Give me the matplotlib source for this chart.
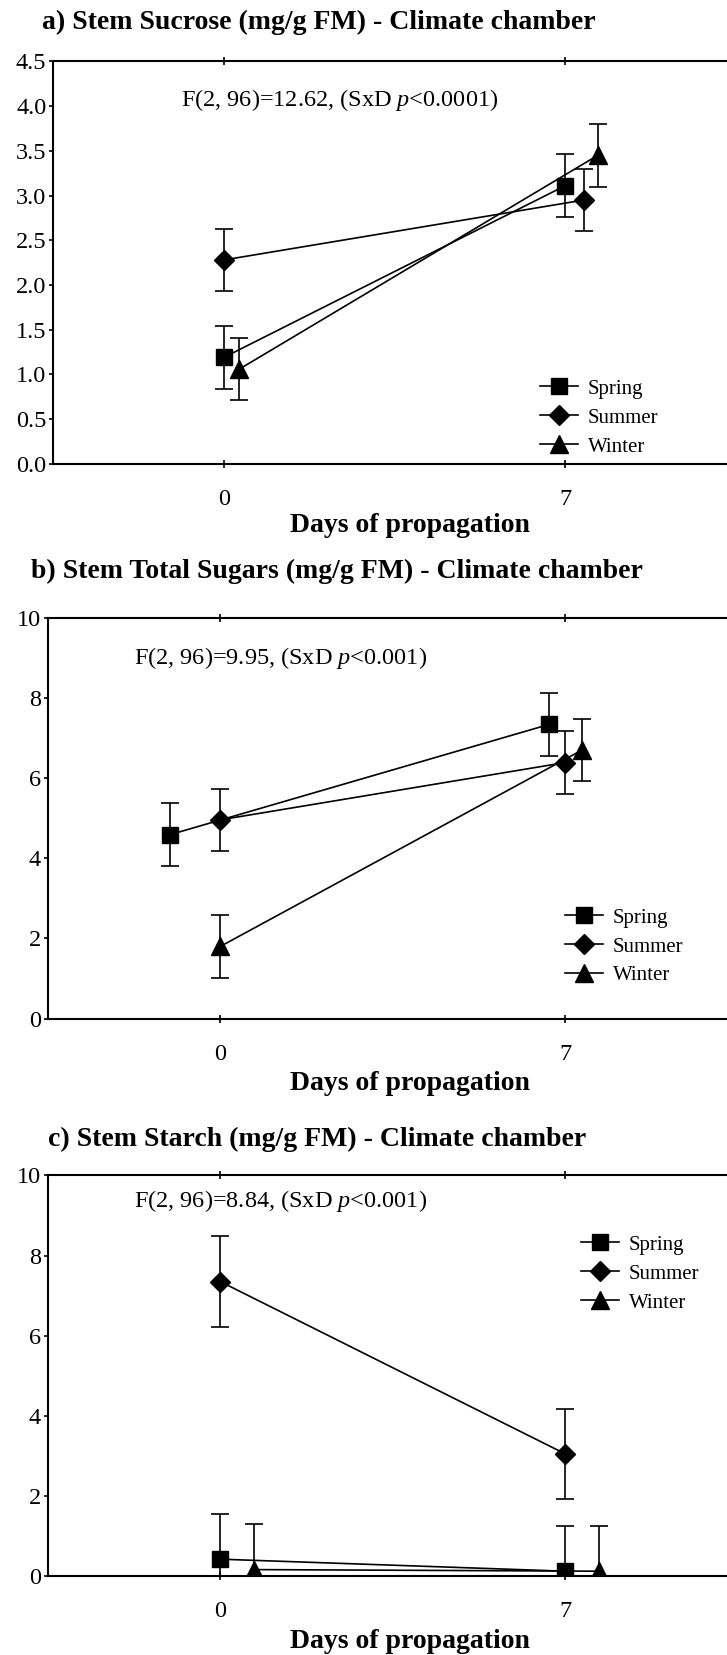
# %% Import modules
import numpy as np
import matplotlib.pyplot as plt
from matplotlib.lines import Line2D

# %% Data (means and error half-widths)
days = [0, 7]
seasons = ['Spring', 'Summer', 'Winter']

sucrose_mean = {'Spring': [1.19, 3.11], 'Summer': [2.28, 2.95], 'Winter': [1.06, 3.45]}
sucrose_err = {'Spring': [0.35, 0.35], 'Summer': [0.35, 0.35], 'Winter': [0.35, 0.35]}

sugars_mean = {'Spring': [4.59, 7.34], 'Summer': [4.96, 6.39], 'Winter': [1.80, 6.70]}
sugars_err = {'Spring': [0.78, 0.78], 'Summer': [0.78, 0.78], 'Winter': [0.78, 0.78]}

starch_mean = {'Spring': [0.42, 0.12], 'Summer': [7.35, 3.05], 'Winter': [0.16, 0.12]}
starch_err = {'Spring': [1.13, 1.12], 'Summer': [1.13, 1.12], 'Winter': [1.13, 1.12]}

titles = ['a) Stem Sucrose (mg/g FM) - Climate chamber',
          'b) Stem Total Sugars (mg/g FM) - Climate chamber',
          'c) Stem Starch (mg/g FM) - Climate chamber']
stats = [r'F(2, 96)=12.62, (SxD $\mathit{p}$<0.0001)',
         r'F(2, 96)=9.95, (SxD $\mathit{p}$<0.001)',
         r'F(2, 96)=8.84, (SxD $\mathit{p}$<0.001)']

# %% Style
plt.rcParams['font.family'] = 'Liberation Serif'
plt.rcParams['mathtext.fontset'] = 'custom'
plt.rcParams['mathtext.rm'] = 'Liberation Serif'
plt.rcParams['mathtext.it'] = 'Liberation Serif:italic'

markers = {'Spring': 's', 'Summer': 'D', 'Winter': '^'}
msizes = {'Spring': 12, 'Summer': 10, 'Winter': 13}

# horizontal jitter applied by the original software, per panel
jitter = [{'Spring': [0, 0], 'Summer': [0, 0.38], 'Winter': [0.32, 0.67]},
          {'Spring': [-1.02, -0.33], 'Summer': [0, 0], 'Winter': [0, 0.34]},
          {'Spring': [0, 0], 'Summer': [0, 0], 'Winter': [0.69, 0.69]}]

W, H = 727, 1655
fig = plt.figure(figsize=(W / 100, H / 100), dpi=100)

# axes boxes in pixels: left, top, bottom, px per x unit
boxes = [(53.3, 61.5, 463.8, 48.74), (47.8, 617.9, 1018.6, 49.27), (47.8, 1175.4, 1576.0, 49.27)]
title_pos = [(42, 22), (31, 571), (48, 1139)]
xlab_y = [526, 1084, 1642]
stat_pos = [(181, 100), (134, 658), (134, 1201)]
leg_pos = [(540, 379), (565, 908), (581, 1235)]

datasets = [(sucrose_mean, sucrose_err, 4.5, np.arange(0, 4.51, 0.5), '%.1f'),
            (sugars_mean, sugars_err, 10, np.arange(0, 11, 2), '%d'),
            (starch_mean, starch_err, 10, np.arange(0, 11, 2), '%d')]

handles = [Line2D([], [], color='k', lw=1.2, marker=markers[s], ms=msizes[s], label=s)
           for s in seasons]

for i, (means, errs, ymax, yticks, fmt) in enumerate(datasets):
    left, top, bottom, ppu = boxes[i]
    ax = fig.add_axes([left / W, 1 - bottom / H, 14 * ppu / W, (bottom - top) / H])
    for s in seasons:
        x = np.array(days) + np.array(jitter[i][s])
        ax.errorbar(x, means[s], yerr=errs[s], color='k', marker=markers[s],
                    ms=msizes[s], lw=1.2, elinewidth=1.2, capsize=6.8,
                    capthick=1.2, label=s)
    ax.set_xlim(-3.5, 10.5)
    ax.set_ylim(0, ymax)
    ax.set_xticks(days)
    ax.set_yticks(yticks)
    ax.set_yticklabels([fmt % v for v in yticks])
    for sp in ax.spines.values():
        sp.set_linewidth(1.5)
    ax.spines['right'].set_visible(False)
    ax.tick_params(axis='y', direction='out', length=3, width=1.2, labelsize=17.5, pad=2)
    ax.tick_params(axis='x', direction='inout', length=6, width=1.2, labelsize=17.5,
                   top=True, pad=15)
    ax.text((stat_pos[i][0] - left) / (14 * ppu), 1 - (stat_pos[i][1] - top) / (bottom - top),
            stats[i], transform=ax.transAxes, fontsize=17.5, va='center', ha='left')
    ax.legend(handles=handles, loc='upper left',
              bbox_to_anchor=(leg_pos[i][0] / W, 1 - leg_pos[i][1] / H),
              bbox_transform=fig.transFigure, frameon=False, fontsize=15,
              handlelength=1.8, handletextpad=0.5, labelspacing=0.45, borderpad=0,
              borderaxespad=0)
    fig.text(title_pos[i][0] / W, 1 - title_pos[i][1] / H, titles[i],
             fontsize=20, fontweight='bold', va='center', ha='left')
    fig.text(410 / W, 1 - xlab_y[i] / H, 'Days of propagation',
             fontsize=20, fontweight='bold', va='center', ha='center')

fig.savefig('out.png', dpi=100)
